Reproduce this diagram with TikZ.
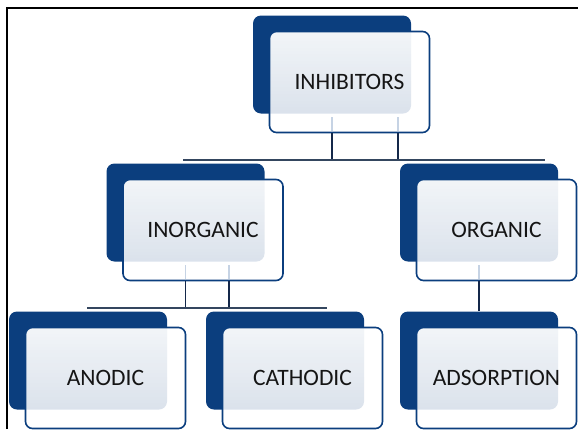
\documentclass[tikz,border=0pt]{standalone}
\usepackage{fontspec}
\setmainfont{Carlito}
\usetikzlibrary{fadings}

\definecolor{navy}{HTML}{0B3E7E}
\definecolor{linknavy}{HTML}{14284A}
\definecolor{busgray}{HTML}{34465F}
\definecolor{ghostblue}{HTML}{C6D3E4}
\definecolor{textdark}{HTML}{151515}

\tikzfading[name=frontfade,top color=transparent!5,bottom color=transparent!17]

\tikzset{
    back/.style={fill=navy,rounded corners=8pt,minimum width=158pt,minimum height=98pt,inner sep=0pt},
    front/.style={draw=navy,line width=1.6pt,text=textdark,
        preaction={fill=white,path fading=frontfade},
        rounded corners=7pt,minimum width=160pt,minimum height=101pt,inner sep=0pt,
        font=\fontsize{23.5}{27}\selectfont},
    link/.style={draw=linknavy,line width=1.8pt},
    bus/.style={draw=busgray,line width=1.2pt},
    ghost/.style={draw=ghostblue,line width=1.3pt}
}

\begin{document}
\begin{tikzpicture}[x=1pt,y=-1pt]

        % -----------
        % Parameters.
        % -----------

        % Constants.
        \pgfmathsetmacro{\offBack}{17.5}    % Offset of back box from front box.
        \pgfmathsetmacro{\yTop}{82}         % y-position of top row.
        \pgfmathsetmacro{\yMid}{230}        % y-position of middle row.
        \pgfmathsetmacro{\yLow}{378}        % y-position of lower row.
        \pgfmathsetmacro{\yBusTop}{160}     % y-position of upper bus line.
        \pgfmathsetmacro{\yBusMid}{308}     % y-position of lower bus line.

        % --------
        % Drawing.
        % --------

        \useasboundingbox (0,0) rectangle (578,429);

        % Frame.
        \draw[line width=2pt] (6.5,429) -- (6.5,7.5) -- (578,7.5);

        % Back boxes.
        \node[back] (inhibBack) at (349.5-\offBack,\yTop-\offBack) {};
        \node[back] (inorgBack) at (203-\offBack,\yMid-\offBack) {};
        \node[back] (orgBack) at (496.5-\offBack,\yMid-\offBack) {};
        \node[back] (anodBack) at (105.5-\offBack,\yLow-\offBack) {};
        \node[back] (cathBack) at (302.5-\offBack,\yLow-\offBack) {};
        \node[back] (adsBack) at (496.5-\offBack,\yLow-\offBack) {};

        % Front boxes.
        \node[front] (inhib) at (349.5,\yTop) {INHIBITORS};
        \node[front] (inorg) at (203,\yMid) {INORGANIC};
        \node[front] (org) at (496.5,\yMid) {ORGANIC};
        \node[front] (anod) at (105.5,\yLow) {ANODIC};
        \node[front] (cath) at (302.5,\yLow) {CATHODIC};
        \node[front] (ads) at (496.5,\yLow) {ADSORPTION};

        % Bus end points and second legs.
        \coordinate (inhibBusL) at (183,\yBusTop);
        \coordinate (inhibBusR) at (545,\yBusTop);
        \coordinate (inhibLeg) at (398,\yTop);
        \coordinate (inorgBusL) at (87,\yBusMid);
        \coordinate (inorgBusR) at (327,\yBusMid);
        \coordinate (inorgLeg) at (229,\yMid);

        % Faint legs inside the front boxes.
        \draw[ghost] ([yshift=2pt]inhib.south -| inhibBack.south) -- ([yshift=16pt]inhib.south -| inhibBack.south);
        \draw[ghost] ([yshift=2pt]inhib.south -| inhibLeg) -- ([yshift=16pt]inhib.south -| inhibLeg);
        \draw[ghost] ([yshift=2pt]inorg.south -| inorgBack.south) -- ([yshift=16pt]inorg.south -| inorgBack.south);
        \draw[ghost] ([yshift=2pt]inorg.south -| inorgLeg) -- ([yshift=16pt]inorg.south -| inorgLeg);
        \draw[ghost] ([yshift=2pt]org.south -| orgBack.south) -- ([yshift=16pt]org.south -| orgBack.south);

        % Inhibitors to inorganic and organic.
        \draw[link] (inhib.south -| inhibBack.south) -- (inhibBusL -| inhibBack.south);
        \draw[link] (inhib.south -| inhibLeg) -- (inhibBusL -| inhibLeg);
        \draw[bus] (inhibBusL) -- (inhibBusR);

        % Inorganic to anodic and cathodic.
        \draw[link] (inorg.south -| inorgBack.south) -- (inorgBusL -| inorgBack.south);
        \draw[link] (inorg.south -| inorgLeg) -- (inorgBusL -| inorgLeg);
        \draw[bus] (inorgBusL) -- (inorgBusR);

        % Organic to adsorption.
        \draw[link] (org.south -| orgBack.south) -- (adsBack.north);

    \end{tikzpicture}
\end{document}
